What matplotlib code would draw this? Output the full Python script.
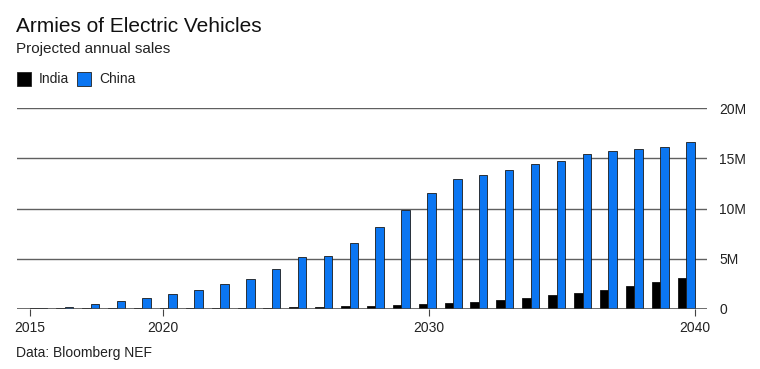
import numpy as np
import matplotlib
matplotlib.use("Agg")
import matplotlib.pyplot as plt
from matplotlib.patches import Rectangle

plt.rcParams['font.family'] = ['Liberation Sans', 'DejaVu Sans']

# ---------------- DATA ----------------
years = list(range(2015, 2041))
india = [0.06, 0.06, 0.07, 0.07, 0.07, 0.08, 0.08, 0.09, 0.09, 0.1,
         0.17, 0.18, 0.27, 0.33, 0.38, 0.47, 0.6, 0.7, 0.93, 1.1,
         1.36, 1.62, 1.89, 2.25, 2.69, 3.08]
china = [0.08, 0.23, 0.5, 0.77, 1.06, 1.5, 1.92, 2.52, 2.98, 3.95,
         5.14, 5.24, 6.6, 8.16, 9.85, 11.57, 12.9, 13.33, 13.8, 14.4,
         14.73, 15.46, 15.72, 15.89, 16.09, 16.6]
tick_years = [2015, 2020, 2030, 2040]
y_ticks = [0, 5, 10, 15, 20]
y_labels = ["0", "5M", "10M", "15M", "20M"]

india_col = "#000000"
china_col = "#0b76f2"

# ---------------- FIGURE ----------------
W, H = 760, 369
fig = plt.figure(figsize=(W / 100, H / 100), dpi=100)

# axes spans pixel 17..707 horizontally, 108..309 vertically
ax = fig.add_axes([17 / W, (H - 309) / H, (707 - 17) / W, (309 - 108) / H])
x_lo = 2015 - 13 / 26.6
x_hi = 2040 + 12 / 26.6
ax.set_xlim(x_lo, x_hi)
ax.set_ylim(0, 20)

# bars sit in bands slightly wider than the year axis
band_lo = 2015 - 4 / 26.6
band_hi = 2040 + 4 / 26.6
step = (band_hi - band_lo) / len(years)
centers = band_lo + step * (np.arange(len(years)) + 0.5)
bw = 0.32

for v in y_ticks[1:]:
    ax.axhline(v, color="#606060", lw=1.0, zorder=1)
ax.axhline(0, color="#444444", lw=1.1, zorder=4)

ax.bar(centers - bw / 2, india, width=bw, color=india_col,
       edgecolor="#111111", lw=0.6, zorder=3)
ax.bar(centers + bw / 2, china, width=bw, color=china_col,
       edgecolor="#1a1a1a", lw=0.6, zorder=3)

for s in ax.spines.values():
    s.set_visible(False)

ax.set_xticks(tick_years)
ax.set_xticklabels([str(t) for t in tick_years], fontsize=10, color="#222222")
ax.tick_params(axis="x", length=5, width=0.8, color="#444444", pad=4)

ax.yaxis.tick_right()
ax.set_yticks(y_ticks)
ax.set_yticklabels(y_labels, fontsize=10, color="#222222")
ax.tick_params(axis="y", length=0, pad=9)

# titles
fig.text(16 / W, 1 - 26 / H, "Armies of Electric Vehicles", fontsize=15,
         color="#111111", va="center", ha="left")
fig.text(16 / W, 1 - 49 / H, "Projected annual sales", fontsize=11,
         color="#222222", va="center", ha="left")

# legend
for x0, lab, col in [(17, "India", india_col), (77, "China", china_col)]:
    fig.patches.append(Rectangle((x0 / W, 1 - 86 / H), 14 / W, 14 / H,
                                 transform=fig.transFigure, facecolor=col,
                                 edgecolor="#222222", lw=0.6))
    fig.text((x0 + 22) / W, 1 - 79 / H, lab, fontsize=10, color="#222222",
             va="center", ha="left")

fig.text(16 / W, 1 - 353 / H, "Data: Bloomberg NEF", fontsize=10,
         color="#222222", va="center", ha="left")

fig.savefig("out.png", dpi=100)
